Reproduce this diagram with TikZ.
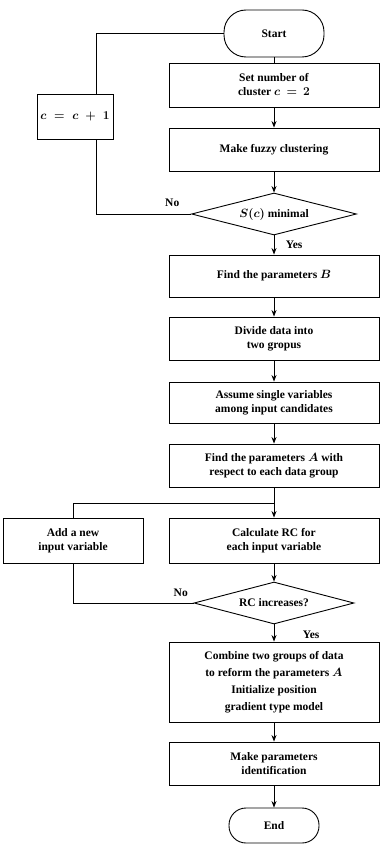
\documentclass[tikz,border=0pt]{standalone}
\usepackage{fontspec}
\setmainfont{Liberation Serif}
\usetikzlibrary{shapes.geometric}
\usetikzlibrary{arrows.meta}
\usetikzlibrary{positioning}

\begin{document}
\begin{tikzpicture}[x=1pt, y=1pt, line width=0.9pt,
  every node/.style={font=\fontsize{11.5}{14}\selectfont\bfseries\boldmath, align=center},
  box/.style={draw, minimum width=210pt, inner sep=2pt},
  term/.style={draw, rounded corners=17pt, minimum width=90pt},
  test/.style={draw, diamond, aspect=4, inner sep=1pt},
  arr/.style={-{Stealth[length=6.5pt,width=5pt]}}]
  \useasboundingbox (0,0) rectangle (380,-853);
  % main column
  \node[term, rounded corners=22pt, minimum width=100pt, minimum height=47pt] (start) at (274,-33.5) {Start};
  \node[box, minimum height=44pt] (setc) at (274,-85) {Set number of\\cluster $c\,=\,2$};
  \node[box, minimum height=43pt] (fuzzy) at (274,-149.5) {Make fuzzy clustering};
  \node[test, minimum width=165pt, minimum height=42pt] (smin) at (274,-214) {$S(c)$ minimal};
  \node[box, minimum height=42pt] (findb) at (274,-276) {Find the parameters $B$};
  \node[box, minimum height=43pt] (divide) at (274,-338.5) {Divide data into\\two gropus};
  \node[box, minimum height=41pt] (assume) at (274,-402.5) {Assume single variables\\among input candidates};
  \node[box, minimum height=43pt] (finda) at (274,-465.5) {Find the parameters $A$ with\\respect to each data group};
  \coordinate (split) at (274,-503);
  \node[box, minimum height=45pt] (calc) at (274,-540.5) {Calculate RC for\\each input variable};
  \node[test, minimum width=160pt, minimum height=42pt] (rcinc) at (274,-603) {RC increases?};
  \node[box, minimum height=80pt] (combine) at (274,-682) {Combine two groups of data\\[3pt]to reform the parameters $A$\\[3pt]Initialize position\\[3pt]gradient type model};
  \node[box, minimum height=43pt] (ident) at (274,-763.5) {Make parameters\\identification};
  \node[term, minimum height=35pt] (end) at (274,-825.5) {End};
  % side boxes
  \node[draw, minimum width=76pt, minimum height=45pt] (incr) at (75,-116.5) {$c \;=\; c \;+\; 1$};
  \coordinate (loop) at (96,-213);
  \node[draw, minimum width=140pt, minimum height=45pt] (addvar) at (73,-540.5) {Add a new\\input variable};
  % labels
  \node[above left=4pt and 8pt of smin.west] (no1) {No};
  \node[below right=2pt and 8pt of smin.south] (yes1) {Yes};
  \node[above left=3pt and 2pt of rcinc.west] (no2) {No};
  \node[below right=3pt and 25pt of rcinc.south] (yes2) {Yes};

  \draw (start) -- (setc);
  \draw[arr] (setc) -- (fuzzy);
  \draw[arr] (fuzzy) -- (smin);
  \draw[arr] (smin) -- (findb);
  \draw[arr] (findb) -- (divide);
  \draw[arr] (divide) -- (assume);
  \draw[arr] (assume) -- (finda);
  \draw (finda) -- (split);
  \draw[arr] (split) -- (calc);
  \draw[arr] (calc) -- (rcinc);
  \draw[arr] (rcinc) -- (combine);
  \draw[arr] (combine) -- (ident);
  \draw[arr] (ident) -- (end);
  % loops back
  \draw (smin.west) -| (loop |- incr.south);
  \draw (loop |- incr.north) |- (start.west);
  \draw (split) -| (addvar.north);
  \draw (addvar.south) |- (rcinc.west);
\end{tikzpicture}
\end{document}
